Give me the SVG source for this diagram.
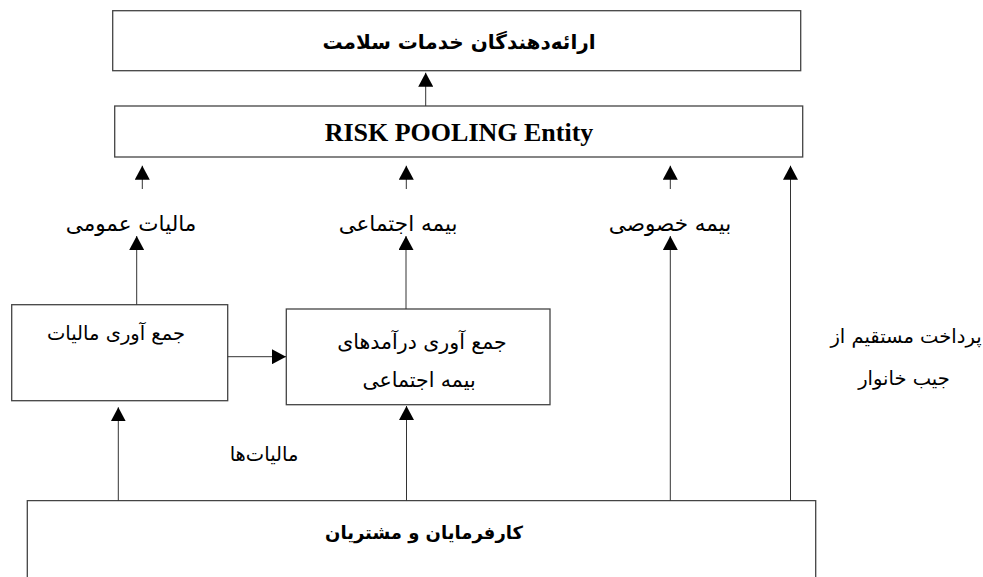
<svg xmlns="http://www.w3.org/2000/svg" width="983" height="577" viewBox="0 0 983 577">
<defs>
<style>
.box{fill:#fff;stroke:#444;stroke-width:1.3}
.ln{stroke:#333;stroke-width:1;fill:none}
.fa{font-family:"DejaVu Sans",sans-serif;fill:#000;text-anchor:middle}
.fab{font-family:"DejaVu Sans",sans-serif;font-weight:bold;fill:#000;text-anchor:middle}
.en{font-family:"Liberation Serif",serif;font-weight:bold;fill:#000;text-anchor:middle}
</style>
<marker id="ah" viewBox="0 0 14 15" refX="14" refY="7.5" markerWidth="14" markerHeight="15" markerUnits="userSpaceOnUse" orient="auto">
<path d="M0,0 L14,7.5 L0,15 Z" fill="#000"/>
</marker>
</defs>
<rect width="983" height="577" fill="#fff"/>
<g id="providers">
<rect class="box" x="112.7" y="10.7" width="688" height="60"/>
<text class="fab" x="459" y="49" font-size="20">ارائه‌دهندگان خدمات سلامت</text>
</g>
<g id="risk-pooling">
<rect class="box" x="114.7" y="106" width="688" height="51"/>
<text class="en" x="459" y="141" font-size="26">RISK POOLING Entity</text>
</g>
<g id="tax-collection">
<rect class="box" x="11.7" y="304.7" width="216" height="96"/>
<text class="fa" x="116" y="340" font-size="19.5">جمع آوری مالیات</text>
</g>
<g id="social-collection">
<rect class="box" x="286.3" y="309" width="263.7" height="95.7"/>
<text class="fa" x="422" y="349" font-size="20.5">جمع آوری درآمدهای</text>
<text class="fa" x="419" y="387" font-size="20.5">بیمه اجتماعی</text>
</g>
<g id="employers">
<path class="box" d="M27.3,577 V500.7 H815.7 V577" fill="none"/>
<text class="fab" x="424" y="539" font-size="18">کارفرمایان و مشتریان</text>
</g>
<g id="labels">
<text class="fa" x="131" y="231" font-size="21.5">مالیات عمومی</text>
<text class="fa" x="398" y="231" font-size="21.5">بیمه اجتماعی</text>
<text class="fa" x="670" y="231" font-size="21.5">بیمه خصوصی</text>
<text class="fa" x="264" y="461" font-size="19.5">مالیات‌ها</text>
<text class="fa" x="906" y="343" font-size="19.5">پرداخت مستقیم از</text>
<text class="fa" x="904" y="385" font-size="19.5">جیب خانوار</text>
</g>
<g id="connectors">
<line class="ln" x1="425.7" y1="106" x2="425.7" y2="72.7" marker-end="url(#ah)"/>
<line class="ln" x1="142.3" y1="189" x2="142.3" y2="165.7" marker-end="url(#ah)"/>
<line class="ln" x1="406.3" y1="189" x2="406.3" y2="165.7" marker-end="url(#ah)"/>
<line class="ln" x1="670.3" y1="189" x2="670.3" y2="165.7" marker-end="url(#ah)"/>
<line class="ln" x1="790.5" y1="500.7" x2="790.5" y2="165.7" marker-end="url(#ah)"/>
<line class="ln" x1="136.7" y1="304.7" x2="136.7" y2="236" marker-end="url(#ah)"/>
<line class="ln" x1="406" y1="309" x2="406" y2="236" marker-end="url(#ah)"/>
<line class="ln" x1="670.3" y1="500.7" x2="670.3" y2="236" marker-end="url(#ah)"/>
<line class="ln" x1="227.7" y1="356.7" x2="286" y2="356.7" marker-end="url(#ah)"/>
<line class="ln" x1="118.3" y1="500.7" x2="118.3" y2="407.3" marker-end="url(#ah)"/>
<line class="ln" x1="406.5" y1="500.7" x2="406.5" y2="406" marker-end="url(#ah)"/>
</g>
</svg>
